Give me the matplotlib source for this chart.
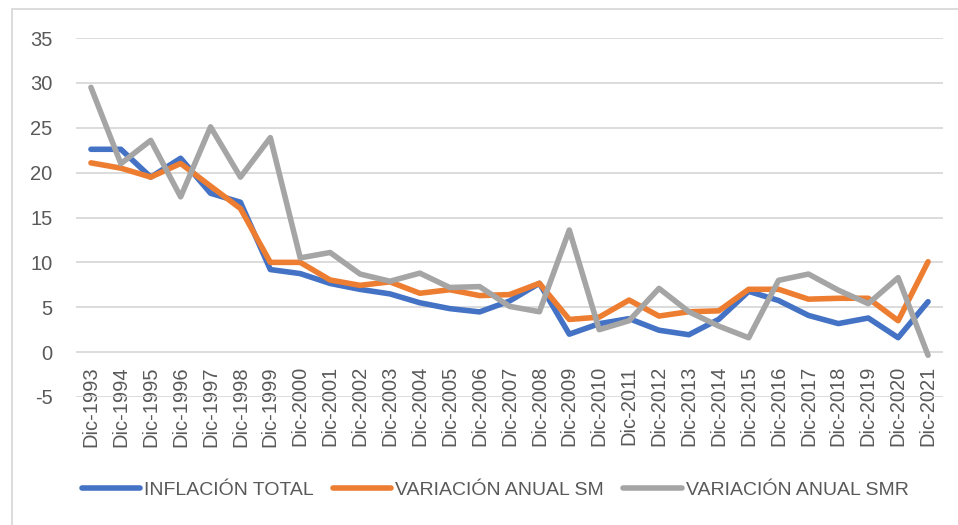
import matplotlib
matplotlib.use("Agg")
import matplotlib.pyplot as plt
from matplotlib.patches import Rectangle
import numpy as np

years = list(range(1993, 2022))
categories = [f"Dic-{y}" for y in years]

inflacion_total = [22.6, 22.6, 19.5, 21.6, 17.7, 16.7, 9.2, 8.75, 7.65, 6.99, 6.49, 5.5,
                   4.85, 4.48, 5.69, 7.67, 2.0, 3.17, 3.73, 2.44, 1.94, 3.66, 6.77, 5.75,
                   4.09, 3.18, 3.8, 1.61, 5.62]
variacion_sm = [21.09, 20.5, 19.5, 21.02, 18.5, 16.0, 10.0, 10.0, 8.04, 7.44, 7.83, 6.56,
                6.95, 6.3, 6.41, 7.67, 3.64, 3.9, 5.8, 4.02, 4.5, 4.6, 7.0, 7.0,
                5.9, 6.0, 6.0, 3.5, 10.07]
variacion_smr = [29.5, 21.0, 23.6, 17.3, 25.1, 19.5, 23.9, 10.5, 11.1, 8.7, 7.9, 8.8,
                 7.2, 7.3, 5.1, 4.5, 13.6, 2.5, 3.5, 7.1, 4.5, 2.9, 1.6, 8.0,
                 8.7, 6.9, 5.4, 8.3, -0.35]

series_names = ["INFLACIÓN TOTAL", "VARIACIÓN ANUAL SM", "VARIACIÓN ANUAL SMR"]
colors = ["#4472C4", "#ED7D31", "#A5A5A5"]
yticks = [-5, 0, 5, 10, 15, 20, 25, 30, 35]

plt.rcParams['font.family'] = ['Liberation Sans', 'DejaVu Sans']

fig = plt.figure(figsize=(9.58, 5.25), dpi=100)
fig.patches.append(Rectangle((12/958, -0.1), 2, 1 - 9/525 + 0.1, transform=fig.transFigure,
                             fill=False, edgecolor="#D9D9D9", linewidth=1.3))
ax = fig.add_axes([76/958, 1 - 397/525, 867/958, 359/525])

x = np.arange(len(categories))
for vals, name, c in zip([inflacion_total, variacion_sm, variacion_smr], series_names, colors):
    ax.plot(x, vals, color=c, lw=4.0, label=name, solid_capstyle='round', solid_joinstyle='round')

ax.set_xlim(-0.5, len(categories) - 0.5)
ax.set_ylim(-5, 35)
ax.set_yticks(yticks)
ax.set_yticklabels([str(v) for v in yticks])
ax.yaxis.grid(True, color="#D9D9D9", lw=1.3)
ax.set_axisbelow(True)
for s in ax.spines.values():
    s.set_visible(False)
ax.spines['bottom'].set_position(('data', 0))
ax.set_xticks(x)
ax.set_xticklabels(categories, rotation=90)
ax.tick_params(axis='x', length=0, pad=10, labelsize=14.5, colors="#595959")
ax.tick_params(axis='y', length=0, pad=17, labelsize=14.5, colors="#595959")

leg = fig.legend(loc='center', bbox_to_anchor=(495/958, 1 - 490/525), ncol=3, frameon=False,
                 fontsize=14, handlelength=3.0, handletextpad=0.2, columnspacing=1.0,
                 labelcolor="#595959")

fig.savefig("out.png", dpi=100, facecolor="white")
